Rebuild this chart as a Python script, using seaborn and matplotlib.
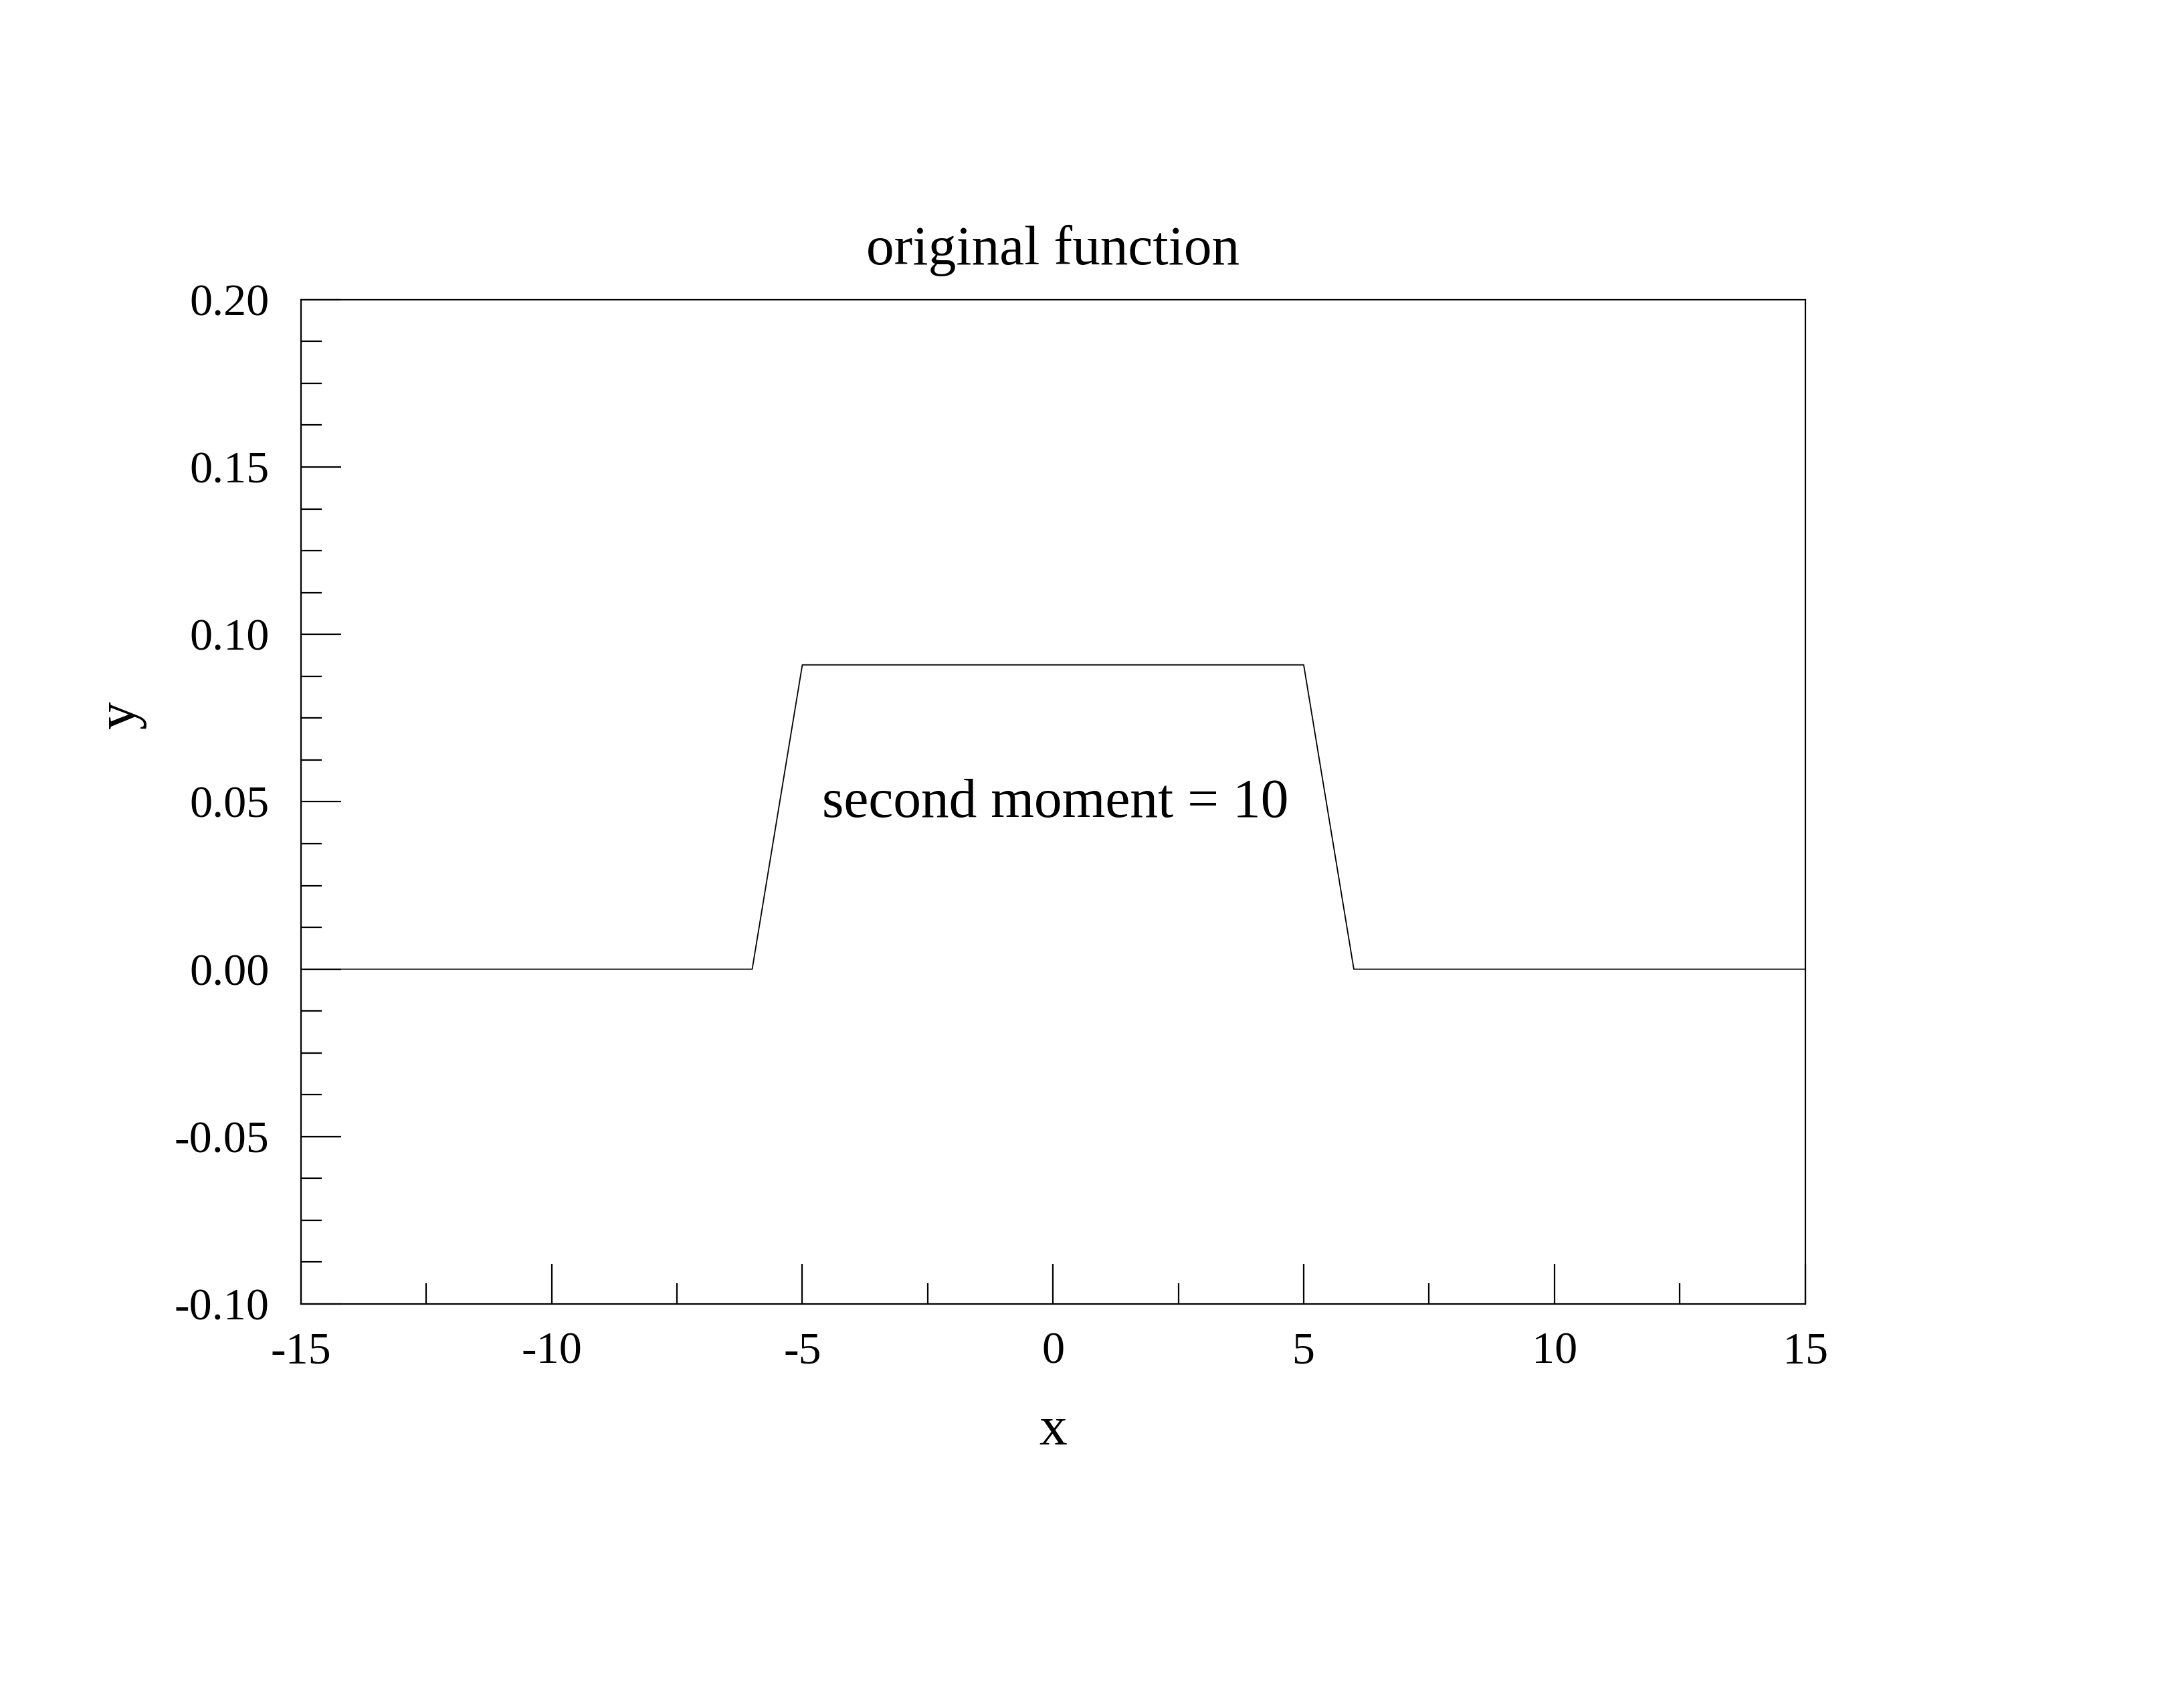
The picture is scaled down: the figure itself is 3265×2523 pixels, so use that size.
import matplotlib
matplotlib.use("Agg")
import matplotlib.pyplot as plt
from matplotlib.ticker import MultipleLocator, FormatStrFormatter
import seaborn as sns
import pandas as pd

# data
x_vals = [-15, -6, -5, 5, 6, 15]
y_vals = [0.0, 0.0, 0.0909, 0.0909, 0.0, 0.0]
title_text = "original function"
annot_text = "second moment = 10"
annot_pos = (0.05, 0.0495)

sns.set_style("ticks")
plt.rcParams['font.family'] = ['Liberation Serif', 'DejaVu Serif']
plt.rcParams['axes.unicode_minus'] = False
plt.rcParams['text.color'] = 'black'
plt.rcParams['axes.labelcolor'] = 'black'
plt.rcParams['xtick.color'] = 'black'
plt.rcParams['ytick.color'] = 'black'
plt.rcParams['axes.edgecolor'] = 'black'

fig = plt.figure(figsize=(32.65, 25.23), dpi=100)
ax = fig.add_axes([0.1378, 0.2275, 0.8265 - 0.1378, 0.8225 - 0.2275])

df = pd.DataFrame({"x": x_vals, "y": y_vals})
sns.lineplot(data=df, x="x", y="y", ax=ax, color="black", linewidth=1.3, sort=False)

ax.set_xlim(-15, 15)
ax.set_ylim(-0.10, 0.20)
ax.xaxis.set_major_locator(MultipleLocator(5))
ax.xaxis.set_minor_locator(MultipleLocator(2.5))
ax.yaxis.set_major_locator(MultipleLocator(0.05))
ax.yaxis.set_minor_locator(MultipleLocator(0.0125))
ax.yaxis.set_major_formatter(FormatStrFormatter('%.2f'))
ax.xaxis.set_major_formatter(FormatStrFormatter('%d'))

for s in ax.spines.values():
    s.set_visible(True)
    s.set_linewidth(1.6)
    s.set_color("black")

ax.tick_params(which='both', direction='in', top=False, right=False, width=1.6, color='black')
ax.tick_params(which='major', length=43, labelsize=49)
ax.tick_params(axis='x', which='major', pad=30)
ax.tick_params(axis='y', which='major', pad=34)
ax.tick_params(which='minor', length=22)

ax.set_title(title_text, fontsize=60, pad=38, color='black')
ax.set_xlabel("x", fontsize=60, labelpad=36)
ax.set_ylabel("y", fontsize=60, labelpad=30, y=0.587)

ax.text(annot_pos[0], annot_pos[1], annot_text, fontsize=60, ha='center', va='center', color='black')

fig.savefig("out.png", dpi=100, facecolor="white")
